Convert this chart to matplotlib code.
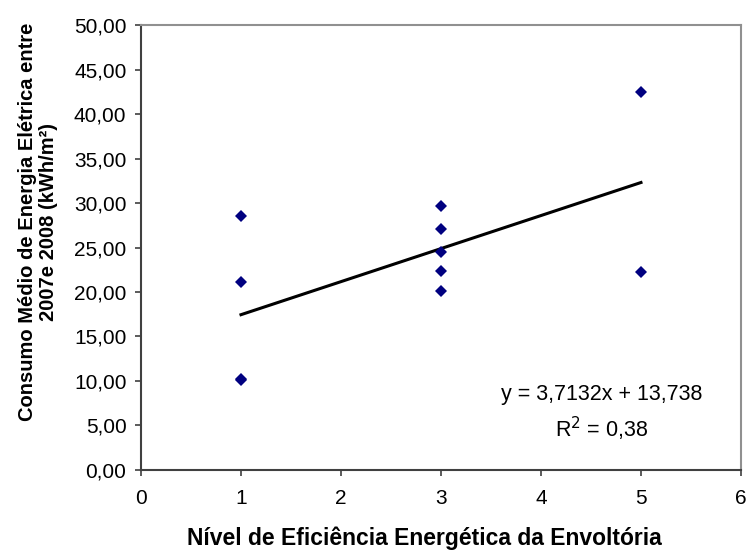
import matplotlib
matplotlib.use("Agg")
import matplotlib.pyplot as plt
import numpy as np

plt.rcParams['font.family'] = ['Liberation Sans', 'DejaVu Sans']

# Energy efficiency level of the building envelope vs. mean electricity use
nivel = [1, 1, 1, 1, 3, 3, 3, 3, 3, 5, 5]
consumo = [28.5, 21.1, 10.2, 10.1, 29.66, 27.04, 24.5, 22.36, 20.15, 42.5, 22.3]

# Linear trend line as stated in the annotation
slope = 3.7132
intercept = 13.738
r2 = 0.38

x_ticks = [0, 1, 2, 3, 4, 5, 6]
y_ticks = [0, 5, 10, 15, 20, 25, 30, 35, 40, 45, 50]

fig = plt.figure(figsize=(7.48, 5.56), dpi=100)
ax = fig.add_axes([0.1885, 0.1547, 0.8021, 0.8003])

ax.plot(nivel, consumo, linestyle='none', marker='D', markersize=6.2,
        color='#000080', markeredgewidth=0, zorder=3)

xl = np.array([min(nivel), max(nivel)])
ax.plot(xl, slope * xl + intercept, color='black', linewidth=2.2, zorder=2)

ax.set_xlim(0, 6)
ax.set_ylim(0, 50)
ax.set_xticks(x_ticks)
ax.set_yticks(y_ticks)
ax.set_xticklabels([str(v) for v in x_ticks])
ax.set_yticklabels([f"{v:.2f}".replace('.', ',') for v in y_ticks])
ax.tick_params(axis='both', labelsize=15, direction='out', length=4.5,
               width=1.2, color='#404040', pad=6)
ax.tick_params(axis='x', pad=9)

for side in ['left', 'bottom']:
    ax.spines[side].set_color('#404040')
    ax.spines[side].set_linewidth(1.5)
for side in ['top', 'right']:
    ax.spines[side].set_color('#909090')
    ax.spines[side].set_linewidth(1.5)

ax.set_xlabel('Nível de Eficiência Energética da Envoltória', fontsize=16.5,
              fontweight='bold')
ax.xaxis.set_label_coords(0.472, -0.126)
ax.set_ylabel('Consumo Médio de Energia Elétrica entre\n2007e 2008 (kWh/m²)',
              fontsize=14.5, fontweight='bold', linespacing=1.15)
ax.yaxis.set_label_coords(-0.138, 0.557)

ax.text(4.61, 8.5, f"y = {slope:.4f}x + {intercept:.3f}".replace('.', ','),
        fontsize=15.5, ha='center', va='center')
ax.text(4.61, 4.6, f"R$^2$ = {r2:.2f}".replace('.', ','),
        fontsize=15.5, ha='center', va='center')

fig.savefig('out.png', dpi=100)
